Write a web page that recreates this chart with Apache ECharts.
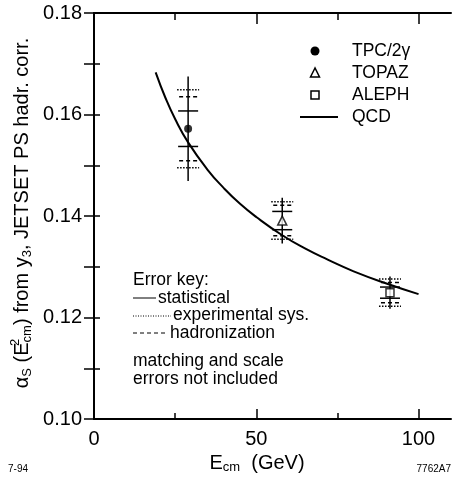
<!DOCTYPE html>
<html>
<head>
<meta charset="utf-8">
<script src="https://cdn.jsdelivr.net/npm/echarts@6/dist/echarts.min.js"></script>
<style>
  html, body { margin: 0; padding: 0; background: #fff; }
  #chart { width: 454px; height: 482px; }
</style>
</head>
<body>
<div id="chart"></div>
<script>
// measurements: E_cm (GeV), alpha_s and the three error components
const energies = [29, 58, 91.2];
const alphaValues = [0.1572, 0.1391, 0.1249];
const statErr = [0.0035, 0.0018, 0.0011];
const sysErr = [0.0077, 0.0037, 0.0027];
const hadErr = [0.0063, 0.0030, 0.0020];
const totalErr = [0.0103, 0.0045, 0.0032];
const experiments = ['TPC/2γ', 'TOPAZ', 'ALEPH'];

// QCD curve
const qcdEnergy = [19, 22, 25, 29, 35, 40, 45, 50, 58, 65, 72, 80, 91, 100];
const qcdAlpha = [0.1683, 0.1633, 0.1591, 0.1545, 0.1491, 0.1455, 0.1424, 0.1398, 0.1362, 0.1336, 0.1314, 0.1291, 0.1265, 0.1246];

const xMajor = [0, 50, 100];
const xMinor = [25, 75];

const FONT = '"Liberation Sans", Arial, Helvetica, sans-serif';
const chart = echarts.init(document.getElementById('chart'));

const errRows = energies.map((e, i) => [e, alphaValues[i], statErr[i], sysErr[i], hadErr[i], totalErr[i]]);

function renderErr(params, api) {
  const e = api.value(0), v = api.value(1);
  const x = api.coord([e, v])[0];
  const yOf = (d) => api.coord([e, d])[1];
  const tick = (d, half, dash) => ({
    type: 'line',
    shape: { x1: x - half, y1: yOf(d), x2: x + half, y2: yOf(d) },
    style: { stroke: '#000', lineWidth: 1.5, lineDash: dash }
  });
  const s = api.value(2), y = api.value(3), h = api.value(4), t = api.value(5);
  return {
    type: 'group',
    children: [
      { type: 'line', shape: { x1: x, y1: yOf(v - t), x2: x, y2: yOf(v + t) }, style: { stroke: '#000', lineWidth: 1.5 } },
      tick(v + s, 10, null), tick(v - s, 10, null),
      tick(v + y, 11, [1.5, 1.5]), tick(v - y, 11, [1.5, 1.5]),
      tick(v + h, 9, [4, 3]), tick(v - h, 9, [4, 3])
    ]
  };
}

const baseX = { type: 'value', min: 0, max: 110, interval: 50, gridIndex: 0 };
const baseY = { type: 'value', min: 0.10, max: 0.18, interval: 0.01, gridIndex: 0 };

const option = {
  animation: false,
  backgroundColor: '#fff',
  grid: { left: 94, top: 13, width: 357, height: 406 },
  xAxis: [
    Object.assign({}, baseX, {
      position: 'bottom',
      axisLine: { lineStyle: { color: '#000', width: 2 } },
      axisTick: { inside: true, length: 10, lineStyle: { color: '#000', width: 1.5 }, customValues: xMajor },
      axisLabel: { customValues: xMajor, color: '#000', fontSize: 20, fontFamily: FONT, margin: 10 },
      splitLine: { show: false }
    }),
    Object.assign({}, baseX, {
      position: 'bottom',
      axisLine: { show: false },
      axisTick: { inside: true, length: 6, lineStyle: { color: '#000', width: 1.5 }, customValues: xMinor },
      axisLabel: { show: false },
      splitLine: { show: false }
    }),
    Object.assign({}, baseX, {
      position: 'top',
      axisLine: { lineStyle: { color: '#000', width: 2 } },
      axisTick: { inside: true, length: 11, lineStyle: { color: '#000', width: 1.5 }, customValues: xMajor },
      axisLabel: { show: false },
      splitLine: { show: false }
    }),
    Object.assign({}, baseX, {
      position: 'top',
      axisLine: { show: false },
      axisTick: { inside: true, length: 7, lineStyle: { color: '#000', width: 1.5 }, customValues: xMinor },
      axisLabel: { show: false },
      splitLine: { show: false }
    })
  ],
  yAxis: [
    Object.assign({}, baseY, {
      position: 'left',
      axisLine: { lineStyle: { color: '#000', width: 2 } },
      axisTick: { inside: true, length: 6, lineStyle: { color: '#000', width: 1.5 } },
      axisLabel: {
        color: '#000', fontSize: 20, fontFamily: FONT, margin: 12,
        formatter: (v) => (Math.round(v * 100) % 2 === 0 ? v.toFixed(2) : '')
      },
      splitLine: { show: false }
    }),
    Object.assign({}, baseY, {
      position: 'right',
      axisLine: { lineStyle: { color: '#000', width: 2 } },
      axisTick: { inside: true, length: 10, lineStyle: { color: '#000', width: 1.5 } },
      axisLabel: { show: false },
      splitLine: { show: false }
    })
  ],
  series: [
    {
      name: 'QCD', type: 'line', smooth: true, showSymbol: false,
      data: qcdEnergy.map((e, i) => [e, qcdAlpha[i]]),
      lineStyle: { color: '#000', width: 2 }, z: 2
    },
    {
      type: 'custom', name: 'errors', renderItem: renderErr, data: errRows,
      encode: { x: 0, y: 1 }, z: 3
    },
    {
      name: experiments[0], type: 'scatter', symbol: 'circle', symbolSize: 8,
      data: [[energies[0], alphaValues[0]]], itemStyle: { color: '#000' }, z: 4
    },
    {
      name: experiments[1], type: 'scatter', symbol: 'triangle', symbolSize: 9,
      data: [[energies[1], alphaValues[1]]],
      itemStyle: { color: '#fff', borderColor: '#000', borderWidth: 1.5 }, z: 4
    },
    {
      name: experiments[2], type: 'scatter', symbol: 'rect', symbolSize: 8,
      data: [[energies[2], alphaValues[2]]],
      itemStyle: { color: '#fff', borderColor: '#000', borderWidth: 1.5 }, z: 4
    }
  ],
  graphic: [
    // legend
    { type: 'circle', shape: { cx: 315, cy: 51, r: 4.5 }, style: { fill: '#000' } },
    { type: 'polygon', shape: { points: [[315, 68], [310.5, 77], [319.5, 77]] }, style: { fill: '#fff', stroke: '#000', lineWidth: 1.5 } },
    { type: 'rect', shape: { x: 311, y: 91, width: 8, height: 8 }, style: { fill: '#fff', stroke: '#000', lineWidth: 1.5 } },
    { type: 'line', shape: { x1: 300, y1: 117, x2: 338, y2: 117 }, style: { stroke: '#000', lineWidth: 2 } },
    { type: 'text', x: 352, y: 51, style: { text: 'TPC/2γ', font: '17.5px ' + FONT, fill: '#000', verticalAlign: 'middle' } },
    { type: 'text', x: 352, y: 73, style: { text: 'TOPAZ', font: '17.5px ' + FONT, fill: '#000', verticalAlign: 'middle' } },
    { type: 'text', x: 352, y: 95, style: { text: 'ALEPH', font: '17.5px ' + FONT, fill: '#000', verticalAlign: 'middle' } },
    { type: 'text', x: 352, y: 117, style: { text: 'QCD', font: '17.5px ' + FONT, fill: '#000', verticalAlign: 'middle' } },
    // error key
    { type: 'text', x: 133, y: 280, style: { text: 'Error key:', font: '17.5px ' + FONT, fill: '#000', verticalAlign: 'middle' } },
    { type: 'line', shape: { x1: 133, y1: 298, x2: 156, y2: 298 }, style: { stroke: '#000', lineWidth: 1 } },
    { type: 'text', x: 158, y: 298, style: { text: 'statistical', font: '17.5px ' + FONT, fill: '#000', verticalAlign: 'middle' } },
    { type: 'line', shape: { x1: 133, y1: 316, x2: 171, y2: 316 }, style: { stroke: '#000', lineWidth: 1, lineDash: [1, 1.5] } },
    { type: 'text', x: 173, y: 315, style: { text: 'experimental sys.', font: '17.5px ' + FONT, fill: '#000', verticalAlign: 'middle' } },
    { type: 'line', shape: { x1: 133, y1: 333, x2: 168, y2: 333 }, style: { stroke: '#000', lineWidth: 1, lineDash: [4, 3] } },
    { type: 'text', x: 170, y: 333, style: { text: 'hadronization', font: '17.5px ' + FONT, fill: '#000', verticalAlign: 'middle' } },
    { type: 'text', x: 133, y: 361, style: { text: 'matching and scale', font: '17.5px ' + FONT, fill: '#000', verticalAlign: 'middle' } },
    { type: 'text', x: 133, y: 379, style: { text: 'errors not included', font: '17.5px ' + FONT, fill: '#000', verticalAlign: 'middle' } },
    // axis titles
    {
      type: 'text', x: 257, y: 463,
      style: {
        text: '{n|E}{sub|cm}{n|  (GeV)}', align: 'center', verticalAlign: 'middle', fill: '#000',
        rich: {
          n: { fontSize: 20, fontFamily: FONT, fill: '#000' },
          sub: { fontSize: 13, fontFamily: FONT, fill: '#000', padding: [9, 0, 0, 0] }
        }
      }
    },
    {
      type: 'text', x: 22, y: 213, rotation: Math.PI / 2,
      style: {
        text: '{n|α}{sub|S}{n| (E}{sup|2}{sub|cm}{n|) from y}{sub|3}{n|, JETSET PS hadr. corr.}',
        align: 'center', verticalAlign: 'middle', fill: '#000',
        rich: {
          n: { fontSize: 20, fontFamily: FONT, fill: '#000' },
          sub: { fontSize: 13, fontFamily: FONT, fill: '#000', padding: [10, 0, 0, 0] },
          sup: { fontSize: 13, fontFamily: FONT, fill: '#000', width: 0, padding: [0, 0, 13, 0] }
        }
      }
    },
    // footnotes
    { type: 'text', x: 8, y: 469, style: { text: '7-94', font: '10px ' + FONT, fill: '#000', verticalAlign: 'middle' } },
    { type: 'text', x: 451, y: 469, style: { text: '7762A7', font: '10px ' + FONT, fill: '#000', verticalAlign: 'middle', align: 'right' } }
  ]
};

chart.setOption(option);
</script>
</body>
</html>
